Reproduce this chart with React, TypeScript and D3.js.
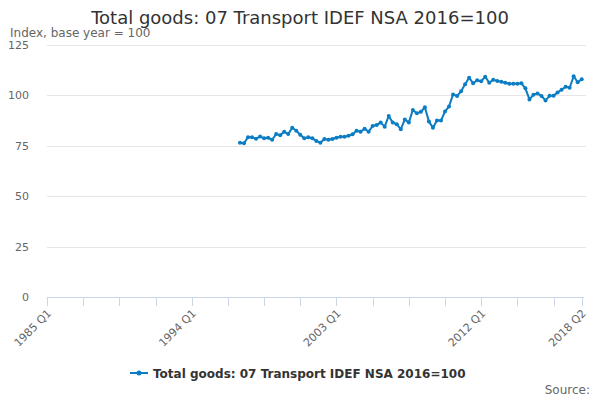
import { useEffect, useRef } from "react";
import * as d3 from "d3";

// quarters from 1985 Q1 to 2018 Q2 (134 positions); data starts 1997 Q1
const axisStart = { year: 1985, quarter: 1 };
const axisCount = 134;
const dataStartIndex = 48; // 1997 Q1

const values = [
  76.5, 76.3, 79.3, 79.2, 78.5, 79.6, 78.7, 79.0, 78.0, 80.8, 80.2, 82.0,
  80.8, 84.0, 82.5, 80.5, 78.7, 79.2, 78.7, 77.4, 76.5, 78.4, 78.0, 78.4,
  79.0, 79.5, 79.5, 80.0, 80.7, 82.5, 82.0, 83.5, 82.0, 84.8, 85.3, 86.5,
  84.5, 89.8, 86.5, 85.7, 83.2, 88.1, 86.5, 92.8, 91.1, 91.9, 94.1, 87.0,
  84.0, 87.5, 87.5, 92.0, 94.5, 100.5, 99.7, 102.0, 105.5, 108.8, 106.0, 107.5,
  107.0, 109.3, 106.3, 107.8, 107.2, 106.8, 106.3, 105.8, 105.8, 105.8, 106.0, 103.5,
  98.0, 100.3, 101.0, 99.7, 97.5, 99.8, 99.8, 101.5, 102.8, 104.3, 103.8, 109.5,
  106.5, 108.0,
];

const yTicks = [0, 25, 50, 75, 100, 125];
const labelledTicks = [0, 36, 72, 108, 133];

const title = "Total goods: 07 Transport IDEF NSA 2016=100";
const subtitle = "Index, base year = 100";
const seriesName = "Total goods: 07 Transport IDEF NSA 2016=100";

const quarterLabel = (i: number) => {
  const q = axisStart.quarter - 1 + i;
  return `${axisStart.year + Math.floor(q / 4)} Q${(q % 4) + 1}`;
};

export default function App() {
  const svgRef = useRef<SVGSVGElement>(null);

  useEffect(() => {
    if (!svgRef.current) return;
    const svg = d3.select(svgRef.current);
    svg.selectAll("*").remove();

    const font = "'DejaVu Sans', Verdana, sans-serif";
    const color = "#0b7dc4";

    const x = d3.scaleLinear().domain([0, axisCount - 1]).range([47, 581.7]);
    const y = d3.scaleLinear().domain([0, 125]).range([297, 45]);

    // title
    svg.append("text")
      .attr("x", 300)
      .attr("y", 24)
      .attr("text-anchor", "middle")
      .attr("font-family", font)
      .attr("font-size", "18px")
      .attr("fill", "#333")
      .text(title);

    svg.append("text")
      .attr("x", 10)
      .attr("y", 37)
      .attr("font-family", font)
      .attr("font-size", "12px")
      .attr("fill", "#666")
      .text(subtitle);

    // grid
    const grid = svg.append("g");
    grid.selectAll("line")
      .data(yTicks.filter((t) => t > 0))
      .enter()
      .append("line")
      .attr("x1", 47)
      .attr("x2", 586)
      .attr("y1", (d) => Math.round(y(d)) + 0.5)
      .attr("y2", (d) => Math.round(y(d)) + 0.5)
      .attr("stroke", "#e6e6e6");

    grid.selectAll("text")
      .data(yTicks)
      .enter()
      .append("text")
      .attr("x", 29)
      .attr("y", (d) => y(d) + 4)
      .attr("text-anchor", "end")
      .attr("font-family", font)
      .attr("font-size", "11px")
      .attr("fill", "#666")
      .text((d) => d);

    // x axis
    const tickIdx = d3.range(0, axisCount, 9).concat([axisCount - 1]);
    const xa = svg.append("g").attr("transform", "translate(0,297)");
    xa.append("line")
      .attr("x1", 47)
      .attr("x2", 584)
      .attr("y1", 0.5)
      .attr("y2", 0.5)
      .attr("stroke", "#ccd6eb");
    xa.selectAll("line.tick")
      .data(tickIdx)
      .enter()
      .append("line")
      .attr("class", "tick")
      .attr("x1", (d) => Math.round(x(d)) + 0.5)
      .attr("x2", (d) => Math.round(x(d)) + 0.5)
      .attr("y1", 0)
      .attr("y2", 9)
      .attr("stroke", "#ccd6eb");
    xa.selectAll("text")
      .data(labelledTicks)
      .enter()
      .append("text")
      .attr("transform", (d) => `translate(${x(d) + 5},${17}) rotate(-45)`)
      .attr("text-anchor", "end")
      .attr("font-family", font)
      .attr("font-size", "11px")
      .attr("fill", "#666")
      .text((d) => quarterLabel(d));

    // series
    const pts = values.map((v, i) => ({ i: dataStartIndex + i, v }));
    const line = d3.line<{ i: number; v: number }>()
      .x((d) => x(d.i))
      .y((d) => y(d.v));
    svg.append("path")
      .datum(pts)
      .attr("d", line)
      .attr("fill", "none")
      .attr("stroke", color)
      .attr("stroke-width", 2)
      .attr("stroke-linejoin", "round");
    svg.append("g")
      .selectAll("circle")
      .data(pts)
      .enter()
      .append("circle")
      .attr("cx", (d) => x(d.i))
      .attr("cy", (d) => y(d.v))
      .attr("r", 2)
      .attr("fill", color);

    // legend
    const lg = svg.append("g").attr("transform", "translate(130,373)");
    lg.append("line")
      .attr("x1", 0)
      .attr("x2", 18)
      .attr("y1", 0)
      .attr("y2", 0)
      .attr("stroke", color)
      .attr("stroke-width", 2);
    lg.append("circle").attr("cx", 9).attr("cy", 0).attr("r", 2.5).attr("fill", color);
    lg.append("text")
      .attr("x", 23)
      .attr("y", 4.5)
      .attr("font-family", font)
      .attr("font-size", "12px")
      .attr("font-weight", "bold")
      .attr("fill", "#333")
      .text(seriesName);

    svg.append("text")
      .attr("x", 590)
      .attr("y", 394)
      .attr("text-anchor", "end")
      .attr("font-family", font)
      .attr("font-size", "12px")
      .attr("fill", "#666")
      .text("Source:");
  }, []);

  return (
    <svg
      ref={svgRef}
      width={600}
      height={400}
      style={{ position: "absolute", left: 0, top: 0, background: "#fff" }}
    />
  );
}
